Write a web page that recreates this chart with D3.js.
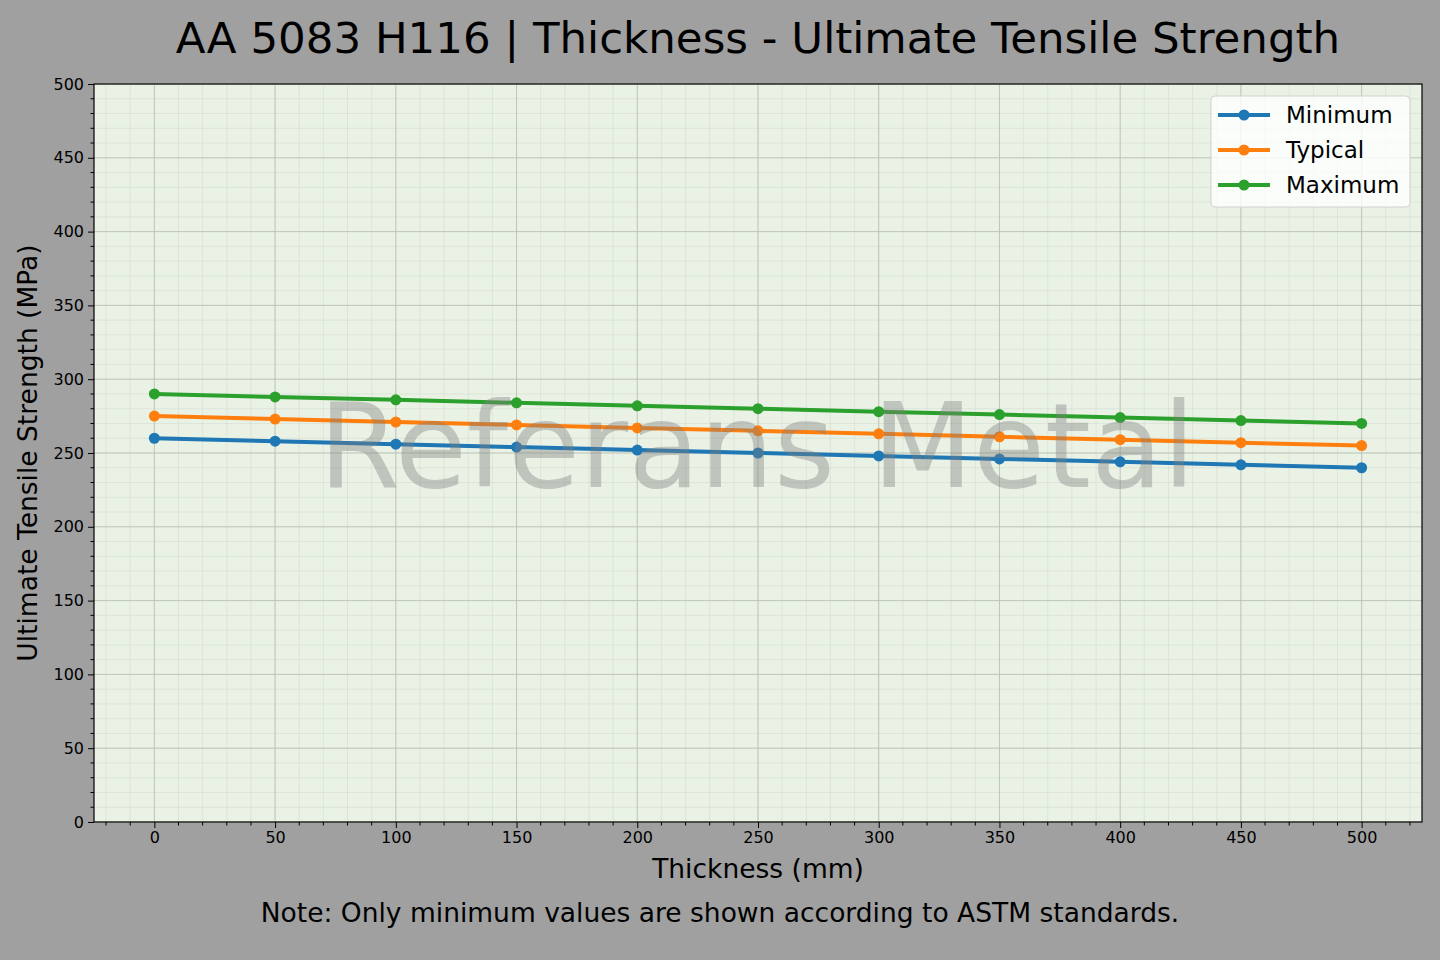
<!DOCTYPE html>
<html>
<head>
<meta charset="utf-8">
<script src="https://cdn.jsdelivr.net/npm/d3@7"></script>
<style>
body { margin: 0; background: #a0a0a0; }
svg { display: block; font-family: "DejaVu Sans", sans-serif; }
</style>
</head>
<body>
<script>
// data
var thickness = [0, 50, 100, 150, 200, 250, 300, 350, 400, 450, 500];
var minimum = [260, 258, 256, 254, 252, 250, 248, 246, 244, 242, 240];
var typical = [275, 273, 271, 269, 267, 265, 263, 261, 259, 257, 255];
var maximum = [290, 288, 286, 284, 282, 280, 278, 276, 274, 272, 270];
var seriesNames = ["Minimum", "Typical", "Maximum"];
var seriesColors = ["#1f77b4", "#ff7f0e", "#2ca02c"];
var xTicks = [0, 50, 100, 150, 200, 250, 300, 350, 400, 450, 500];
var yTicks = [0, 50, 100, 150, 200, 250, 300, 350, 400, 450, 500];

var W = 1440, H = 960;
var pLeft = 94, pRight = 1422, pTop = 84, pBottom = 822;

var svg = d3.select("body").append("svg").attr("width", W).attr("height", H);
svg.append("rect").attr("width", W).attr("height", H).attr("fill", "#a0a0a0");

var x = d3.scaleLinear().domain([-25, 525]).range([pLeft, pRight]);
var y = d3.scaleLinear().domain([0, 500]).range([pBottom, pTop]);

// plot background
svg.append("rect").attr("x", pLeft).attr("y", pTop)
  .attr("width", pRight - pLeft).attr("height", pBottom - pTop)
  .attr("fill", "#eaf2e6");

var g = svg.append("g");

// minor grid
var minorX = d3.range(-20, 530, 10), minorY = d3.range(0, 501, 10);
g.selectAll(".mgx").data(minorX).enter().append("line")
  .attr("x1", d => x(d)).attr("x2", d => x(d)).attr("y1", pTop).attr("y2", pBottom)
  .attr("stroke", "#c8cfc4").attr("stroke-opacity", 0.45).attr("stroke-width", 0.8);
g.selectAll(".mgy").data(minorY).enter().append("line")
  .attr("y1", d => y(d)).attr("y2", d => y(d)).attr("x1", pLeft).attr("x2", pRight)
  .attr("stroke", "#c8cfc4").attr("stroke-opacity", 0.45).attr("stroke-width", 0.8);

// major grid
g.selectAll(".gx").data(xTicks).enter().append("line")
  .attr("x1", d => x(d)).attr("x2", d => x(d)).attr("y1", pTop).attr("y2", pBottom)
  .attr("stroke", "#b8bfb4").attr("stroke-opacity", 0.8).attr("stroke-width", 1);
g.selectAll(".gy").data(yTicks).enter().append("line")
  .attr("y1", d => y(d)).attr("y2", d => y(d)).attr("x1", pLeft).attr("x2", pRight)
  .attr("stroke", "#b8bfb4").attr("stroke-opacity", 0.8).attr("stroke-width", 1);

// series
var allSeries = [minimum, typical, maximum];
var line = d3.line().x((d, i) => x(thickness[i])).y(d => y(d));
allSeries.forEach(function(vals, s) {
  svg.append("path").datum(vals).attr("d", line)
    .attr("fill", "none").attr("stroke", seriesColors[s]).attr("stroke-width", 4);
  svg.selectAll(".pt" + s).data(vals).enter().append("circle")
    .attr("cx", (d, i) => x(thickness[i])).attr("cy", d => y(d)).attr("r", 5.5)
    .attr("fill", seriesColors[s]);
});

// watermark
svg.append("text").attr("x", 757).attr("y", 487).attr("text-anchor", "middle")
  .attr("font-size", 117).attr("fill", "#808080").attr("fill-opacity", 0.4)
  .text("Referans Metal");

// axes
var xAxis = d3.axisBottom(x).tickValues(xTicks).tickSize(6).tickPadding(4);
var gx = svg.append("g").attr("transform", "translate(0," + pBottom + ")").call(xAxis);
var yAxis = d3.axisLeft(y).tickValues(yTicks).tickSize(6).tickPadding(4);
var gy = svg.append("g").attr("transform", "translate(" + pLeft + ",0)").call(yAxis);
[gx, gy].forEach(function(a) {
  a.select(".domain").remove();
  a.selectAll("text").attr("font-size", 16).attr("font-family", "DejaVu Sans").attr("fill", "#000");
  a.selectAll("line").attr("stroke", "#000");
});
// minor ticks
svg.selectAll(".mtx").data(minorX.filter(d => xTicks.indexOf(d) < 0)).enter().append("line")
  .attr("x1", d => x(d)).attr("x2", d => x(d)).attr("y1", pBottom).attr("y2", pBottom + 3.5)
  .attr("stroke", "#000");
svg.selectAll(".mty").data(minorY.filter(d => yTicks.indexOf(d) < 0)).enter().append("line")
  .attr("y1", d => y(d)).attr("y2", d => y(d)).attr("x1", pLeft).attr("x2", pLeft - 3.5)
  .attr("stroke", "#000");

// frame
svg.append("rect").attr("x", pLeft).attr("y", pTop)
  .attr("width", pRight - pLeft).attr("height", pBottom - pTop)
  .attr("fill", "none").attr("stroke", "#000").attr("stroke-width", 1.2);

// legend
var lg = svg.append("g").attr("transform", "translate(1211,96)");
lg.append("rect").attr("width", 199).attr("height", 111).attr("rx", 4)
  .attr("fill", "#ffffff").attr("fill-opacity", 0.8).attr("stroke", "#d0d0d0");
seriesNames.forEach(function(n, i) {
  var ly = 19 + i * 35;
  lg.append("line").attr("x1", 7).attr("x2", 59).attr("y1", ly).attr("y2", ly)
    .attr("stroke", seriesColors[i]).attr("stroke-width", 4);
  lg.append("circle").attr("cx", 33).attr("cy", ly).attr("r", 5.5).attr("fill", seriesColors[i]);
  lg.append("text").attr("x", 75).attr("y", ly + 8).attr("font-size", 23).attr("fill", "#000").text(n);
});

// titles
svg.append("text").attr("x", 758).attr("y", 53).attr("text-anchor", "middle")
  .attr("font-size", 43.5).attr("fill", "#000")
  .text("AA 5083 H116 | Thickness - Ultimate Tensile Strength");
svg.append("text").attr("x", 758).attr("y", 878).attr("text-anchor", "middle")
  .attr("font-size", 26.5).attr("fill", "#000").text("Thickness (mm)");
svg.append("text").attr("transform", "translate(37,453) rotate(-90)").attr("text-anchor", "middle")
  .attr("font-size", 26.5).attr("fill", "#000").text("Ultimate Tensile Strength (MPa)");
svg.append("text").attr("x", 720).attr("y", 922).attr("text-anchor", "middle")
  .attr("font-size", 26.5).attr("fill", "#000")
  .text("Note: Only minimum values are shown according to ASTM standards.");
</script>
</body>
</html>
